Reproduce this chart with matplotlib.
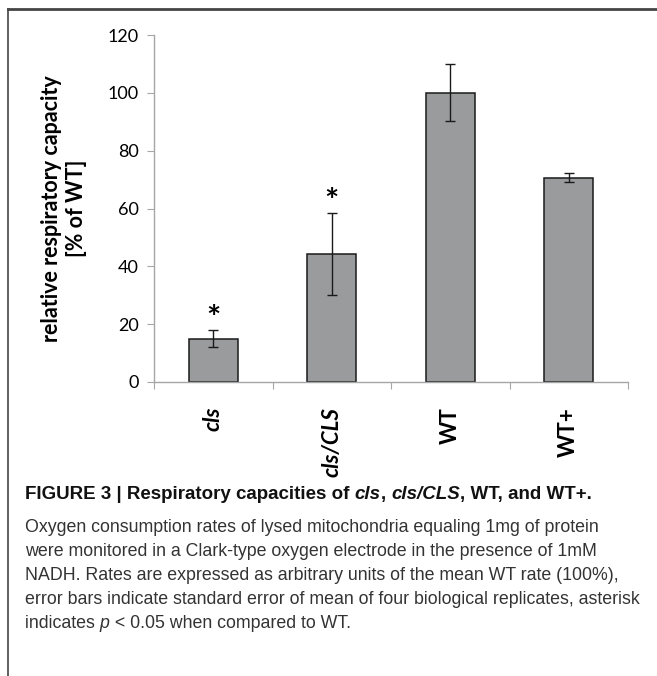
import matplotlib
matplotlib.use("Agg")
import matplotlib.pyplot as plt
from matplotlib.lines import Line2D
from matplotlib.transforms import IdentityTransform
import numpy as np

groups = ["cls", "cls/CLS", "WT", "WT+"]
italic_groups = [True, True, False, False]
means = [15.0, 44.3, 100.0, 70.6]
sem = [2.9, 14.1, 9.8, 1.6]
signif = [True, True, False, False]
yticks = [0, 20, 40, 60, 80, 100, 120]

W, H = 657, 676
fig = plt.figure(figsize=(W / 100, H / 100), dpi=100)
ax = fig.add_axes([154 / W, 1 - 382 / H, (628 - 154) / W, (382 - 35) / H])

chart_font = ["Lato", "DejaVu Sans"]
cap_font = ["Liberation Sans Narrow", "Liberation Sans", "DejaVu Sans"]
axis_gray = "#a6a6a6"

x = np.arange(len(groups))
ax.bar(x, means, width=0.41, color="#999b9c", edgecolor="#1a1a1a", linewidth=1.1, zorder=2)
ax.errorbar(x, means, yerr=sem, fmt="none", ecolor="#1a1a1a", elinewidth=1.0,
            capsize=3.5, capthick=1.0, zorder=3)
for i in range(len(groups)):
    if signif[i]:
        ax.text(x[i], means[i] + sem[i] - 1.4, "*", ha="center", va="bottom",
                fontsize=24, fontweight="bold", family=chart_font)

ax.set_xlim(-0.5, len(groups) - 0.5)
ax.set_ylim(0, 120)
ax.set_yticks(yticks)
ax.set_yticklabels([str(v) for v in yticks], family=chart_font, fontsize=13)

ax.set_xticks(np.arange(len(groups) + 1) - 0.5, minor=False)
ax.set_xticklabels([])
ax.set_xticks(x, minor=True)
ax.set_xticklabels(groups, minor=True, rotation=90, family=chart_font, fontsize=16,
                   fontweight="bold")
for lab, it in zip(ax.get_xticklabels(minor=True), italic_groups):
    if it:
        lab.set_style("italic")
ax.tick_params(axis="x", which="minor", length=0, pad=18)
ax.tick_params(axis="x", which="major", length=5, color=axis_gray, direction="out")
ax.tick_params(axis="y", length=5, color=axis_gray, pad=6)

for s in ["top", "right"]:
    ax.spines[s].set_visible(False)
for s in ["left", "bottom"]:
    ax.spines[s].set_color(axis_gray)
    ax.spines[s].set_linewidth(1.0)

ax.set_ylabel("relative respiratory capacity\n[% of WT]", family=chart_font, fontsize=15.5,
              fontweight="bold", labelpad=15, linespacing=1.2)

# frame lines at top and left of the panel
fig.add_artist(Line2D([8 / W, 1], [1 - 9 / H, 1 - 9 / H], transform=fig.transFigure,
                      color="#454545", lw=2))
fig.add_artist(Line2D([8 / W, 8 / W], [1 - 9 / H, 0], transform=fig.transFigure,
                      color="#454545", lw=1.2))

renderer = fig.canvas.get_renderer()


def put_segments(x0, y_top, segments, size, color):
    # lay out text pieces one after the other on a baseline (pixel coords from top)
    xpos = x0
    for txt, weight, style in segments:
        t = fig.text(xpos, H - y_top, txt, transform=IdentityTransform(), family=cap_font,
                     fontsize=size, fontweight=weight, style=style, color=color,
                     va="baseline", ha="left")
        bb = t.get_window_extent(renderer)
        xpos = bb.x1


put_segments(25, 499, [("FIGURE 3 | Respiratory capacities of ", "bold", "normal"),
                       ("cls", "bold", "italic"), (", ", "bold", "normal"),
                       ("cls/CLS", "bold", "italic"),
                       (", WT, and WT+.", "bold", "normal")], 13.5, "#111111")

body = [
    "Oxygen consumption rates of lysed mitochondria equaling 1mg of protein",
    "were monitored in a Clark-type oxygen electrode in the presence of 1mM",
    "NADH. Rates are expressed as arbitrary units of the mean WT rate (100%),",
    "error bars indicate standard error of mean of four biological replicates, asterisk",
]
for k, line in enumerate(body):
    put_segments(25, 532 + k * 24, [(line, "normal", "normal")], 12.75, "#333333")
put_segments(25, 532 + 4 * 24, [("indicates ", "normal", "normal"), ("p", "normal", "italic"),
                                 (" < 0.05 when compared to WT.", "normal", "normal")],
             12.75, "#333333")

fig.savefig("out.png", dpi=100)
